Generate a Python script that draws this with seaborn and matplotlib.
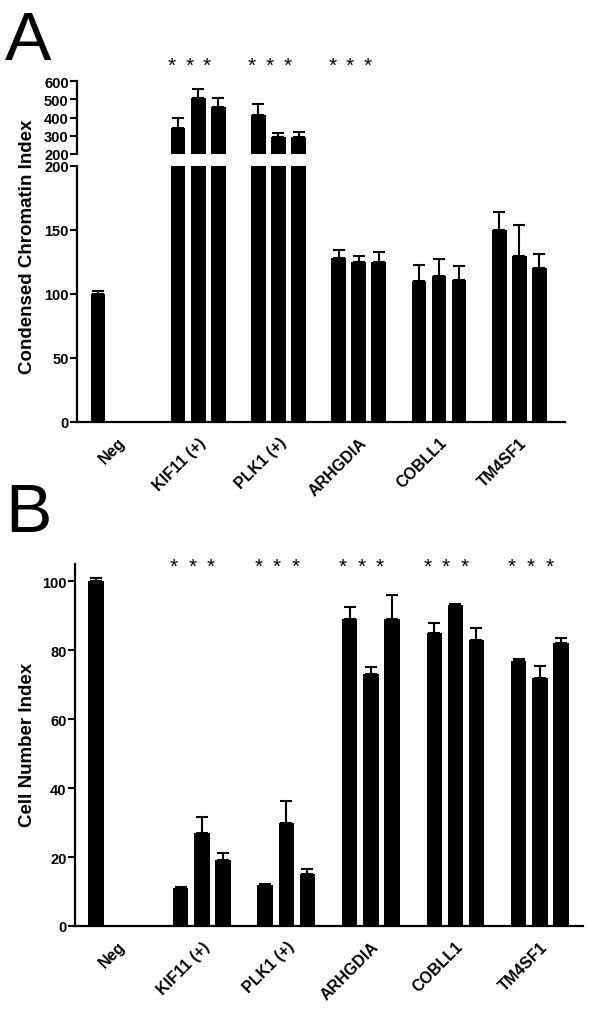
import matplotlib
matplotlib.use('Agg')
import matplotlib.pyplot as plt
import seaborn as sns
import pandas as pd
import numpy as np

groups = ['Neg', 'KIF11 (+)', 'PLK1 (+)', 'ARHGDIA', 'COBLL1', 'TM4SF1']
reps = ['r1', 'r2', 'r3']

# panel A: condensed chromatin index (Neg has a single bar)
chrom_vals = [[100, 0, 0], [342, 505, 457], [413, 293, 293],
              [128, 125, 125], [110, 114, 111], [150, 130, 120]]
chrom_err = [[2, 0, 0], [55, 50, 50], [60, 22, 27],
             [6, 5, 8], [13, 13, 11], [14, 24, 11]]
chrom_stars = ['KIF11 (+)', 'PLK1 (+)', 'ARHGDIA']

# panel B: cell number index
cell_vals = [[100, 0, 0], [11, 27, 19], [12, 30, 15],
             [89, 73, 89], [85, 93, 83], [77, 72, 82]]
cell_err = [[0.8, 0, 0], [0.3, 4.5, 2.2], [0.3, 6.3, 1.6],
            [3.5, 2.2, 7], [3, 0.3, 3.5], [0.3, 3.4, 1.6]]
cell_stars = ['KIF11 (+)', 'PLK1 (+)', 'ARHGDIA', 'COBLL1', 'TM4SF1']

sns.set_style('white')
plt.rcParams['font.family'] = ['Liberation Sans', 'DejaVu Sans']
plt.rcParams['font.weight'] = 'bold'
for k in ('text.color', 'axes.labelcolor', 'xtick.color', 'ytick.color',
          'axes.edgecolor'):
    plt.rcParams[k] = 'black'


def to_df(vals, errs):
    rows = []
    for g, vs, es in zip(groups, vals, errs):
        for r, v, e in zip(reps, vs, es):
            rows.append({'group': g, 'rep': r, 'value': v, 'err': e})
    return pd.DataFrame(rows)


def draw_bars(ax, df):
    sns.barplot(data=df, x='group', y='value', hue='rep', order=groups,
                hue_order=reps, palette=['black'] * 3, width=0.75, gap=0.27,
                errorbar=None, legend=False, linewidth=0, ax=ax)
    for r, cont in zip(reps, ax.containers):
        sub = df[df['rep'] == r].set_index('group').loc[groups]
        xs = [b.get_x() + b.get_width() / 2 for b in cont]
        ys = sub['value'].values
        es = sub['err'].values
        keep = ys > 0
        ax.errorbar(np.array(xs)[keep], ys[keep],
                    yerr=[np.zeros(keep.sum()), es[keep]],
                    fmt='none', ecolor='black', elinewidth=1.5,
                    capsize=4, capthick=1.5)
    ax.set_xlabel('')
    ax.set_ylabel('')


def style(ax, bottom=True):
    sns.despine(ax=ax, top=True, right=True, bottom=not bottom)
    ax.spines['left'].set_linewidth(1.6)
    ax.spines['bottom'].set_linewidth(1.6)
    ax.tick_params(axis='y', length=5, width=1.5, labelsize=10.5, pad=1,
                   left=True, direction='out', colors='black')
    ax.tick_params(axis='x', length=0)
    for t in ax.get_yticklabels():
        t.set_fontweight('bold')


def stars(ax, names, y):
    for g in names:
        i = groups.index(g)
        for d in (-0.33, -0.11, 0.11):
            ax.text(i + d, y, '*', transform=ax.get_xaxis_transform(),
                    ha='center', va='center', fontsize=15, color='black',
                    fontweight='normal', clip_on=False)


fig = plt.figure(figsize=(6, 10.12), dpi=100)
H = 1012.0

dfa = to_df(chrom_vals, chrom_err)
dfb = to_df(cell_vals, cell_err)

# panel A, broken axis
ax_top = fig.add_axes([77 / 600, 1 - 155 / H, 488 / 600, 73 / H])
ax_bot = fig.add_axes([77 / 600, 1 - 423 / H, 488 / 600, 256 / H])
for ax in (ax_top, ax_bot):
    draw_bars(ax, dfa)
    ax.set_xlim(-0.51, 5.57)
ax_top.set_ylim(200, 600)
ax_top.set_yticks([200, 300, 400, 500, 600])
ax_bot.set_ylim(0, 200)
ax_bot.set_yticks([0, 50, 100, 150, 200])
style(ax_top, bottom=False)
style(ax_bot)
ax_top.set_xticks([])
ax_bot.set_xticks(range(len(groups)))
ax_bot.set_xticklabels(groups, rotation=45, ha='right', rotation_mode='anchor',
                       fontsize=11.5, fontweight='bold')
ax_bot.tick_params(axis='x', pad=9)
stars(ax_top, chrom_stars, 1.22)
fig.text(28 / 600, 1 - 247 / H, 'Condensed Chromatin Index', rotation=90,
         ha='center', va='center', fontsize=13.5, fontweight='bold')

# panel B
ax_b = fig.add_axes([75 / 600, 1 - 927 / H, 508 / 600, 362 / H])
draw_bars(ax_b, dfb)
ax_b.set_xlim(-0.5, 5.51)
ax_b.set_ylim(0, 105)
ax_b.set_yticks([0, 20, 40, 60, 80, 100])
style(ax_b)
ax_b.set_xticks(range(len(groups)))
ax_b.set_xticklabels(groups, rotation=45, ha='right', rotation_mode='anchor',
                     fontsize=11.5, fontweight='bold')
ax_b.tick_params(axis='x', pad=9)
stars(ax_b, cell_stars, 0.994)
fig.text(28 / 600, 1 - 745 / H, 'Cell Number Index', rotation=90,
         ha='center', va='center', fontsize=13.5, fontweight='bold')

fig.text(5 / 600, 1 - 60 / H, 'A', fontsize=50, fontweight='normal',
         va='baseline', ha='left')
fig.text(5 / 600, 1 - 532 / H, 'B', fontsize=50, fontweight='normal',
         va='baseline', ha='left')

fig.savefig('out.png', dpi=100)
